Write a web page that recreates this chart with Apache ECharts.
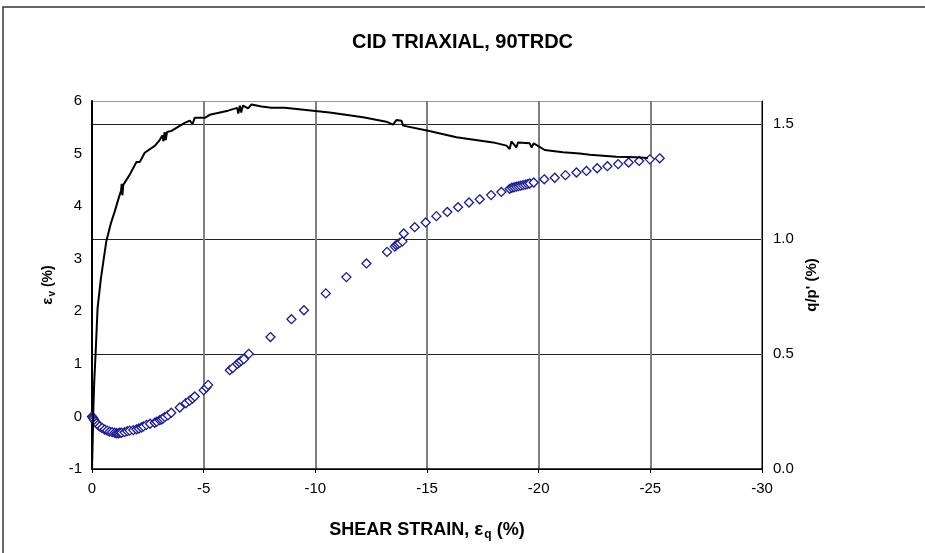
<!DOCTYPE html>
<html>
<head>
<meta charset="utf-8">
<script src="https://cdn.jsdelivr.net/npm/echarts@6/dist/echarts.min.js"></script>
<style>
html,body{margin:0;padding:0;background:#fff;}
#c{width:925px;height:553px;}
</style>
</head>
<body>
<div id="c"></div>
<script>
// q/p' curve (right axis)
var strainQ = [0,-0.03,-0.06,-0.1,-0.17,-0.25,-0.4,-0.64,-0.85,-1.02,-1.2,-1.3,-1.33,-1.36,-1.4,-1.69,-1.99,-2.14,-2.36,-2.81,-3.03,-3.15,-3.2,-3.25,-3.3,-3.36,-3.56,-4.15,-4.38,-4.5,-4.6,-5.05,-5.27,-6.09,-6.5,-6.55,-6.62,-6.68,-6.76,-6.99,-7.14,-7.59,-8.03,-8.63,-10.64,-12.14,-13.18,-13.48,-13.63,-13.86,-13.93,-15.05,-16.32,-17.96,-18.56,-18.7,-18.78,-19.0,-19.08,-19.6,-19.68,-19.78,-20.27,-21.09,-21.84,-22.29,-23.48,-24.38,-24.89];
var qp = [0,0.12,0.26,0.38,0.52,0.70,0.83,0.99,1.07,1.12,1.18,1.21,1.24,1.19,1.235,1.28,1.335,1.335,1.375,1.405,1.43,1.45,1.425,1.465,1.43,1.465,1.47,1.505,1.515,1.5,1.527,1.527,1.54,1.558,1.57,1.545,1.58,1.55,1.58,1.568,1.585,1.576,1.571,1.571,1.55,1.529,1.51,1.497,1.517,1.514,1.493,1.471,1.442,1.42,1.406,1.391,1.424,1.398,1.42,1.416,1.398,1.416,1.387,1.377,1.372,1.366,1.358,1.355,1.352];

// volumetric strain points (left axis)
var strainV = [0,-0.03,-0.06,-0.1,-0.15,-0.2,-0.27,-0.34,-0.45,-0.57,-0.68,-0.79,-0.9,-1.02,-1.1,-1.18,-1.25,-1.32,-1.46,-1.58,-1.69,-1.85,-1.99,-2.1,-2.21,-2.3,-2.44,-2.6,-2.81,-2.9,-3.03,-3.1,-3.18,-3.26,-3.4,-3.55,-3.93,-4.2,-4.37,-4.5,-4.6,-5.0,-5.12,-5.2,-6.17,-6.3,-6.51,-6.6,-6.68,-6.8,-7.02,-7.99,-8.93,-9.49,-10.47,-11.39,-12.29,-13.21,-13.56,-13.62,-13.7,-13.78,-13.9,-13.96,-14.45,-14.94,-15.42,-15.91,-16.39,-16.88,-17.36,-17.87,-18.33,-18.7,-18.8,-18.9,-19.0,-19.1,-19.2,-19.3,-19.4,-19.5,-19.6,-19.78,-20.25,-20.72,-21.2,-21.69,-22.14,-22.62,-23.08,-23.56,-24.03,-24.5,-24.98,-25.42];
var ev = [0,-0.02,-0.04,-0.07,-0.1,-0.13,-0.16,-0.19,-0.22,-0.25,-0.27,-0.29,-0.3,-0.31,-0.32,-0.32,-0.31,-0.31,-0.3,-0.28,-0.27,-0.26,-0.245,-0.23,-0.21,-0.19,-0.16,-0.14,-0.12,-0.1,-0.07,-0.06,-0.04,-0.01,0.02,0.07,0.17,0.25,0.30,0.34,0.38,0.5,0.55,0.6,0.88,0.92,1.0,1.03,1.06,1.09,1.19,1.51,1.85,2.02,2.34,2.65,2.91,3.13,3.23,3.26,3.28,3.3,3.33,3.48,3.6,3.69,3.81,3.89,3.98,4.07,4.13,4.21,4.27,4.33,4.35,4.36,4.37,4.38,4.39,4.4,4.41,4.42,4.43,4.45,4.51,4.54,4.59,4.64,4.67,4.72,4.76,4.8,4.83,4.86,4.89,4.91];

var xTicks = {min:-30, max:0, step:5};
var evTicks = {min:-1, max:6, step:1};
var qpTicks = {min:0, max:1.6, step:0.5};

function zip(a,b){var r=[];for(var i=0;i<a.length;i++)r.push([a[i],b[i]]);return r;}

var FONT = "'Liberation Sans', Arial, sans-serif";
var chart = echarts.init(document.getElementById('c'), null, {renderer:'canvas'});
chart.setOption({
  animation:false,
  backgroundColor:'#fff',
  title:{
    text:'CID TRIAXIAL, 90TRDC', left:'center', top:27,
    textStyle:{fontFamily:"'Liberation Sans Narrow', 'Liberation Sans', Arial", fontSize:20, fontWeight:'bold', color:'#000'}
  },
  graphic:[{type:'rect', shape:{x:3,y:7,width:960,height:600}, style:{fill:'none', stroke:'#333', lineWidth:1.5}, silent:true}],
  grid:{left:92, right:163, top:101, bottom:84},
  xAxis:{
    type:'value', min:xTicks.min, max:xTicks.max, interval:xTicks.step, inverse:true,
    axisLine:{show:true, onZero:false, lineStyle:{color:'#000', width:1.5}},
    axisTick:{show:true, length:4, lineStyle:{color:'#000'}},
    axisLabel:{fontFamily:FONT, fontSize:15, color:'#000', margin:12},
    splitLine:{show:true, lineStyle:{color:'#808080', width:2}},
    name:'{a|SHEAR STRAIN, }{e|ε}{s|q}{a| (%)}', nameLocation:'middle', nameGap:50,
    nameTextStyle:{rich:{
      a:{fontFamily:FONT, fontSize:18, fontWeight:'bold', color:'#000', lineHeight:22},
      e:{fontFamily:FONT, fontSize:19, fontWeight:'bold', color:'#000', lineHeight:22},
      s:{fontFamily:FONT, fontSize:12, fontWeight:'bold', color:'#000', lineHeight:22, verticalAlign:'bottom', padding:[6,0,0,1]}
    }}
  },
  yAxis:[{
    type:'value', position:'left', min:evTicks.min, max:evTicks.max, interval:evTicks.step,
    axisLine:{show:true, onZero:false, lineStyle:{color:'#000', width:2}},
    axisTick:{show:false},
    axisLabel:{fontFamily:FONT, fontSize:15, color:'#000', margin:10},
    splitLine:{show:false},
    name:'{e|ε}{s|v}{a| (%)}', nameLocation:'middle', nameRotate:90, nameGap:35,
    nameTextStyle:{rich:{
      a:{fontFamily:FONT, fontSize:14, fontWeight:'bold', color:'#000', lineHeight:18},
      e:{fontFamily:FONT, fontSize:15, fontWeight:'bold', color:'#000', lineHeight:18},
      s:{fontFamily:FONT, fontSize:10, fontWeight:'bold', color:'#000', lineHeight:18, verticalAlign:'bottom', padding:[4,0,0,1]}
    }}
  },{
    type:'value', position:'right', min:qpTicks.min, max:qpTicks.max, interval:qpTicks.step,
    axisLine:{show:true, onZero:false, lineStyle:{color:'#000', width:1}},
    axisTick:{show:false},
    axisLabel:{fontFamily:FONT, fontSize:15, color:'#000', margin:11, showMaxLabel:false,
      formatter:function(v){return v.toFixed(1);}},
    splitLine:{show:true, lineStyle:{color:['#222','#222','#222','#222','#9a9a9a'], width:1}},
    name:"q/p' (%)", nameLocation:'middle', nameRotate:90, nameGap:42,
    nameTextStyle:{fontFamily:FONT, fontSize:15, fontWeight:'bold', color:'#000'}
  }],
  series:[{
    type:'scatter', yAxisIndex:0, data:zip(strainV, ev),
    symbol:'diamond', symbolSize:9,
    itemStyle:{color:'#fff', borderColor:'#1a1a96', borderWidth:1.3, opacity:1},
    z:3
  },{
    type:'line', yAxisIndex:1, data:zip(strainQ, qp),
    showSymbol:false, symbol:'none',
    lineStyle:{color:'#000', width:2},
    z:4
  }]
});
</script>
</body>
</html>
